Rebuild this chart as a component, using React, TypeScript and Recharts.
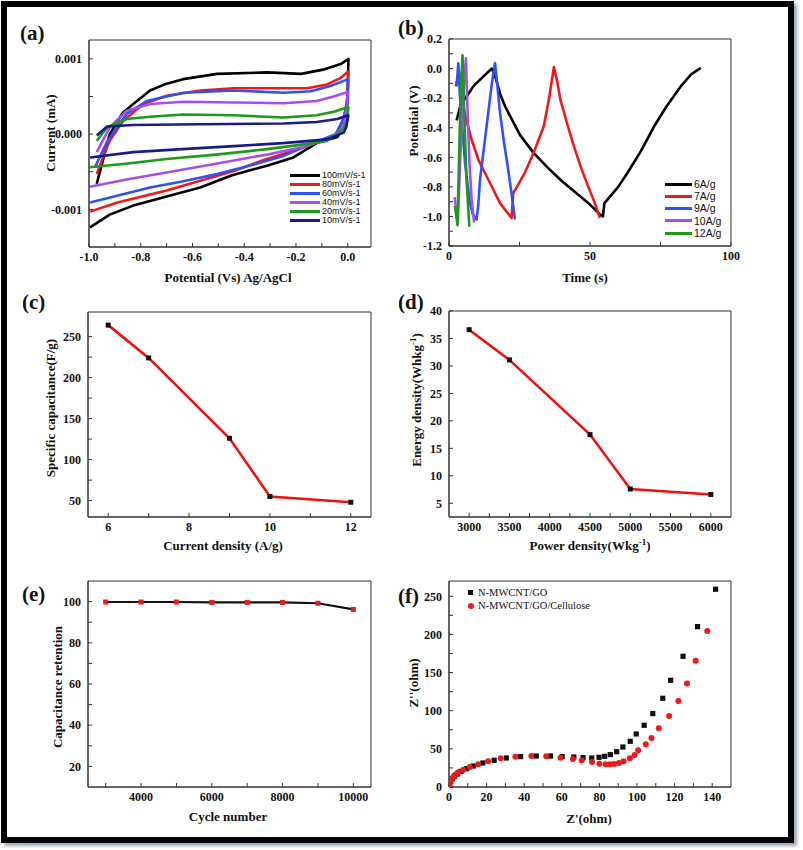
import React from "react";
import { ComposedChart, Line, Scatter, XAxis, YAxis, ReferenceArea } from "recharts";

// ---------------------------------------------------------------------------
// DATA
// ---------------------------------------------------------------------------

// (a) cyclic voltammetry, [potential V, current mA]
const cv100 = [
  [-0.97, -0.00066], [-0.95, -0.0004], [-0.92, 0], [-0.87, 0.00028], [-0.829, 0.0004], [-0.764, 0.00058],
  [-0.7, 0.00067], [-0.636, 0.00073], [-0.505, 0.0008], [-0.312, 0.00082], [-0.18, 0.0008], [-0.09, 0.00086],
  [-0.027, 0.00093], [0.003, 0.001], [0.0, 0.0006], [-0.005, 0.0003], [-0.015, 0.0001], [-0.04, -0.00004],
  [-0.12, -0.00012], [-0.21, -0.00031], [-0.312, -0.00042], [-0.45, -0.00055], [-0.57, -0.00071],
  [-0.7, -0.00083], [-0.829, -0.00095], [-0.92, -0.00107], [-0.996, -0.00124],
];
const cv80 = [
  [-0.97, -0.00053], [-0.945, -0.0003], [-0.92, -0.00009], [-0.867, 0.00018], [-0.79, 0.0004], [-0.7, 0.00051],
  [-0.57, 0.00058], [-0.44, 0.00061], [-0.248, 0.00061], [-0.157, 0.00061], [-0.08, 0.00066], [-0.03, 0.00074],
  [0.002, 0.00083], [0.0, 0.0005], [-0.015, 0.00022], [-0.04, 0], [-0.105, -0.0001], [-0.21, -0.00022],
  [-0.33, -0.00035], [-0.44, -0.00049], [-0.57, -0.00062], [-0.7, -0.00075], [-0.89, -0.00091], [-0.996, -0.00103],
];
const cv60 = [
  [-0.977, -0.00044], [-0.93, -0.0001], [-0.854, 0.00027], [-0.777, 0.00044], [-0.7, 0.0005], [-0.634, 0.00055],
  [-0.44, 0.00058], [-0.248, 0.00055], [-0.143, 0.00057], [-0.067, 0.00064], [0.002, 0.00073], [0.0, 0.0004],
  [-0.02, 0.00018], [-0.047, 0], [-0.12, -0.0001], [-0.248, -0.00029], [-0.38, -0.00042], [-0.505, -0.00053],
  [-0.64, -0.00063], [-0.764, -0.00071], [-0.88, -0.00081], [-0.996, -0.00091],
];
const cv40 = [
  [-0.97, -0.00024], [-0.92, 0.00009], [-0.854, 0.00031], [-0.764, 0.0004], [-0.634, 0.00043], [-0.44, 0.00042],
  [-0.248, 0.00041], [-0.12, 0.00044], [-0.054, 0.0005], [0.0, 0.00056], [-0.005, 0.0003], [-0.015, 0.00009],
  [-0.066, -0.00005], [-0.182, -0.00018], [-0.31, -0.00027], [-0.44, -0.00035], [-0.57, -0.00043],
  [-0.7, -0.00051], [-0.85, -0.0006], [-0.996, -0.0007],
];
const cv20 = [
  [-0.97, -0.00009], [-0.93, 0.00009], [-0.854, 0.0002], [-0.764, 0.00023], [-0.634, 0.00026], [-0.44, 0.00025],
  [-0.248, 0.00022], [-0.12, 0.00025], [-0.05, 0.0003], [0.002, 0.00036], [0.0, 0.0002], [-0.015, 0.00007],
  [-0.08, -0.00009], [-0.2, -0.00015], [-0.312, -0.0002], [-0.5, -0.00027], [-0.7, -0.00033],
  [-0.85, -0.00039], [-0.996, -0.00044],
];
const cv10 = [
  [-0.97, -0.00002], [-0.93, 0.0001], [-0.829, 0.00012], [-0.57, 0.00013], [-0.248, 0.00014], [-0.12, 0.00016],
  [-0.04, 0.0002], [0.002, 0.00025], [-0.005, 0.0001], [-0.015, 0.00002], [-0.08, -0.00007], [-0.25, -0.00012],
  [-0.44, -0.00016], [-0.64, -0.0002], [-0.829, -0.00024], [-0.996, -0.00031],
];
const cvLabels = ["100mV/s-1", "80mV/s-1", "60mV/s-1", "40mV/s-1", "20mV/s-1", "10mV/s-1"];

// (b) galvanostatic charge/discharge, [time s, potential V]
const gcd6 = [
  [2.7, -0.35], [3.9, -0.26], [5.1, -0.22], [7.5, -0.154], [8.6, -0.12], [12.2, -0.053], [15.2, 0.0],
  [16.5, -0.06], [18.1, -0.17], [20, -0.26], [25.2, -0.45], [30, -0.57], [35, -0.67], [40, -0.76],
  [45, -0.84], [50, -0.92], [53.7, -0.99], [54.6, -1.0], [55.1, -0.91], [56.1, -0.888], [60, -0.8],
  [63.2, -0.708], [68, -0.56], [72.7, -0.392], [77, -0.26], [82.2, -0.12], [85.8, -0.04], [89.3, 0.005],
];
const gcd7 = [
  [2.4, -0.12], [3.6, -0.02], [4.5, -0.19], [5.5, -0.3], [8.0, -0.48], [10.5, -0.62], [13.4, -0.73],
  [16, -0.83], [18.1, -0.91], [20.5, -0.97], [22.2, -1.01], [22.5, -0.92], [22.8, -0.84], [24.1, -0.8],
  [27, -0.7], [30, -0.57], [33.6, -0.39], [35.5, -0.2], [37.2, 0.01], [38.5, -0.1], [39.5, -0.21],
  [42, -0.38], [44.2, -0.52], [47, -0.68], [49, -0.78], [51.5, -0.9], [53.5, -1.01],
];
const gcd9 = [
  [2.7, -0.12], [3.3, 0.036], [3.9, -0.19], [4.8, -0.42], [5.7, -0.64], [7.4, -0.91], [8.5, -0.99],
  [9.8, -1.02], [10.4, -0.92], [11, -0.75], [12.5, -0.52], [13.9, -0.3], [15.2, -0.1], [16.3, 0.036],
  [16.8, -0.05], [18.1, -0.3], [19.5, -0.5], [20.5, -0.62], [22, -0.82], [23.4, -1.02],
];
const gcd10 = [
  [2.0, -0.87], [2.5, -0.95], [3.1, -1.04], [4.0, -0.6], [5.0, -0.2], [6.0, 0.07], [6.6, -0.3],
  [7.3, -0.65], [8.0, -0.88], [8.9, -1.04],
];
const gcd12 = [
  [2.1, -0.93], [2.6, -1.0], [3.0, -1.06], [3.7, -0.5], [4.2, -0.15], [4.8, 0.09], [5.4, -0.3],
  [6.2, -0.75], [7.2, -1.07],
];
const gcdLabels = ["6A/g", "7A/g", "9A/g", "10A/g", "12A/g"];

// (c) specific capacitance vs current density
const currentDensity = [6, 7, 9, 10, 12];
const specificCap = [264, 224, 126, 55, 48];

// (d) Ragone
const powerDensity = [3000, 3500, 4500, 5000, 6000];
const energyDensity = [36.6, 31.1, 17.5, 7.6, 6.6];

// (e) cycling
const cycleNumber = [3000, 4000, 5000, 6000, 7000, 8000, 9000, 10000];
const retention = [99.8, 99.8, 99.8, 99.6, 99.6, 99.6, 99.2, 96.2];

// (f) Nyquist, [Z' ohm, Z'' ohm]
const eisGO = [
  [0.35, 3.9], [0.9, 7.4], [1.8, 10.9], [2.8, 14.0], [4.4, 17.0], [6.4, 20.5], [9.4, 24.0], [12.9, 27.5],
  [18.0, 31.5], [24.0, 35.0], [30.5, 38.0], [38.1, 39.8], [46.4, 40.6], [54.0, 40.6], [60.2, 39.8],
  [66.4, 39.3], [71.3, 38.5], [75.9, 38.0], [79.8, 38.9], [82.8, 40.2], [85.8, 42.4], [89.2, 46.3],
  [92.5, 52.4], [96.4, 59.9], [99.6, 69.5], [103.8, 80.9], [108.4, 96.2], [113.7, 116.3], [117.9, 139.9],
  [124.5, 171.3], [132.2, 210.2], [141.8, 259.2],
];
const eisCellulose = [
  [0.2, 1.7], [0.35, 4.8], [0.9, 8.3], [1.8, 11.8], [3.2, 15.7], [4.9, 19.2], [7.6, 22.7], [11.1, 26.2],
  [15.5, 29.7], [20.8, 33.7], [27.5, 37.6], [35.3, 39.8], [43.8, 40.6], [51.7, 40.2], [59.3, 38.5],
  [65.9, 36.7], [70.6, 35.0], [76.1, 32.8], [80.0, 30.6], [83.3, 29.7], [85.6, 29.7], [87.9, 30.2],
  [90.4, 31.5], [92.9, 33.7], [96.2, 37.6], [98.7, 42.0], [100.6, 48.1], [104.7, 55.9], [107.7, 64.2],
  [111.6, 76.9], [117.1, 93.1], [122.0, 112.8], [126.6, 135.5], [131.2, 165.6], [137.4, 204.5],
];

// ---------------------------------------------------------------------------
// HELPERS
// ---------------------------------------------------------------------------

const SERIF = '"Liberation Serif", "Times New Roman", serif';
const SANS = '"Liberation Sans", Arial, sans-serif';
const AXIS = "#333";

const pts = (a: number[][]) => a.map(([x, y]) => ({ x, y }));
const zip = (xs: number[], ys: number[]) => xs.map((x, i) => ({ x, y: ys[i] }));

const tickStyle = { fill: "#111", fontSize: 12, fontWeight: 700, fontFamily: SERIF };

interface PanelProps {
  left: number;
  top: number;
  plotW: number;
  plotH: number;
  xDomain: [number, number];
  yDomain: [number, number];
  xMajor: number[];
  xMinor?: number[];
  yMajor: number[];
  yMinor?: number[];
  xFmt?: (v: number) => string;
  yFmt?: (v: number) => string;
  children: React.ReactNode;
}

const Y_W = 60;
const X_H = 30;
const M_TOP = 12;
const M_RIGHT = 22;

function Panel(p: PanelProps) {
  const xTicks = [...p.xMajor, ...(p.xMinor || [])].sort((a, b) => a - b);
  const yTicks = [...p.yMajor, ...(p.yMinor || [])].sort((a, b) => a - b);
  const xf = (v: number) => (p.xMajor.includes(v) ? (p.xFmt ? p.xFmt(v) : String(v)) : "");
  const yf = (v: number) => (p.yMajor.includes(v) ? (p.yFmt ? p.yFmt(v) : String(v)) : "");
  return (
    <div style={{ position: "absolute", left: p.left - Y_W, top: p.top - M_TOP }}>
      <ComposedChart
        width={Y_W + p.plotW + M_RIGHT}
        height={M_TOP + p.plotH + X_H}
        margin={{ top: M_TOP, right: M_RIGHT, left: 0, bottom: 0 }}
      >
        <XAxis
          type="number"
          dataKey="x"
          domain={p.xDomain}
          ticks={xTicks}
          interval={0}
          allowDataOverflow
          tickFormatter={xf}
          height={X_H}
          tickSize={-4}
          tickMargin={9}
          tick={tickStyle}
          axisLine={{ stroke: AXIS }}
          tickLine={{ stroke: AXIS }}
        />
        <YAxis
          type="number"
          dataKey="y"
          domain={p.yDomain}
          ticks={yTicks}
          interval={0}
          allowDataOverflow
          tickFormatter={yf}
          width={Y_W}
          tickSize={-4}
          tickMargin={11}
          tick={tickStyle}
          axisLine={{ stroke: AXIS }}
          tickLine={{ stroke: AXIS }}
        />
        <ReferenceArea
          x1={p.xDomain[0]}
          x2={p.xDomain[1]}
          y1={p.yDomain[0]}
          y2={p.yDomain[1]}
          fill="none"
          stroke={AXIS}
          strokeWidth={1}
          ifOverflow="visible"
        />
        {p.children}
      </ComposedChart>
    </div>
  );
}

function Text({ x, y, size, children, rotate, bold = true, family = SERIF }: {
  x: number; y: number; size: number; children: React.ReactNode; rotate?: boolean; bold?: boolean; family?: string;
}) {
  return (
    <div
      style={{
        position: "absolute",
        left: x,
        top: y,
        transform: `translate(-50%, -50%)${rotate ? " rotate(-90deg)" : ""}`,
        whiteSpace: "nowrap",
        fontFamily: family,
        fontWeight: bold ? 700 : 400,
        fontSize: size,
        lineHeight: 1,
        color: "#111",
      }}
    >
      {children}
    </div>
  );
}

function PanelTag({ x, y, children }: { x: number; y: number; children: React.ReactNode }) {
  return (
    <div style={{ position: "absolute", left: x, top: y, fontFamily: SERIF, fontWeight: 700, fontSize: 21, lineHeight: "21px", color: "#111" }}>
      {children}
    </div>
  );
}

function LineLegend({ x, y, gap, lineW, size, colors, labels }: {
  x: number; y: number; gap: number; lineW: number; size: number; colors: string[]; labels: string[];
}) {
  return (
    <div style={{ position: "absolute", left: x, top: y }}>
      {labels.map((l, i) => (
        <div key={l} style={{ position: "absolute", left: 0, top: i * gap, display: "flex", alignItems: "center", whiteSpace: "nowrap" }}>
          <div style={{ width: lineW, height: 3, background: colors[i], marginRight: 2 }} />
          <span style={{ fontFamily: SANS, fontSize: size, lineHeight: 1, color: "#111" }}>{l}</span>
        </div>
      ))}
    </div>
  );
}

const Square = (fill: string, s: number) => (props: any) => {
  const { cx, cy } = props;
  if (cx == null || cy == null) return <g key={props.key} />;
  return <rect key={props.key} x={cx - s / 2} y={cy - s / 2} width={s} height={s} fill={fill} />;
};

const cvColors = ["#000000", "#f01818", "#2f52f5", "#a64df0", "#1c9a1c", "#1a1a8a"];
const cvSeries = [cv100, cv80, cv60, cv40, cv20, cv10];
const gcdColors = ["#000000", "#f01818", "#2f52f5", "#a64df0", "#1c9a1c"];
const gcdSeries = [gcd6, gcd7, gcd9, gcd10, gcd12];

// ---------------------------------------------------------------------------
// APP
// ---------------------------------------------------------------------------

export default function App() {
  return (
    <div style={{ position: "absolute", left: 0, top: 0, width: 803, height: 850, background: "#fff", overflow: "hidden" }}>
      <div
        style={{
          position: "absolute", left: 1, top: 1, width: 793, height: 842, boxSizing: "border-box",
          border: "6px solid #000", boxShadow: "3px 3px 3px rgba(130,150,160,0.8)",
        }}
      />

      {/* (a) */}
      <Panel left={89} top={40} plotW={282} plotH={207}
        xDomain={[-1, 0.09]} yDomain={[-0.0015, 0.00125]}
        xMajor={[-1, -0.8, -0.6, -0.4, -0.2, 0]} xMinor={[-0.9, -0.7, -0.5, -0.3, -0.1]}
        yMajor={[-0.001, 0, 0.001]} yMinor={[-0.0005, 0.0005]}
        xFmt={(v) => v.toFixed(1)} yFmt={(v) => v.toFixed(3)}>
        {cvSeries.map((s, i) => (
          <Line key={i} data={pts(s)} dataKey="y" type="linear" stroke={cvColors[i]} strokeWidth={2.6}
            strokeLinejoin="round" dot={false} isAnimationActive={false} />
        ))}
      </Panel>
      <PanelTag x={20} y={23}>(a)</PanelTag>
      <Text x={50} y={133} size={13} rotate>Current (mA)</Text>
      <Text x={228} y={277} size={13}>Potential (Vs) Ag/AgCl</Text>
      <LineLegend x={290} y={171} gap={8.9} lineW={30} size={9} colors={cvColors} labels={cvLabels} />

      {/* (b) */}
      <Panel left={449} top={39} plotW={282} plotH={207}
        xDomain={[0, 100]} yDomain={[-1.2, 0.2]}
        xMajor={[0, 50, 100]} xMinor={[25, 75]}
        yMajor={[-1.2, -1, -0.8, -0.6, -0.4, -0.2, 0, 0.2]} yMinor={[-1.1, -0.9, -0.7, -0.5, -0.3, -0.1, 0.1]}
        xFmt={(v) => String(v)} yFmt={(v) => v.toFixed(1)}>
        {gcdSeries.map((s, i) => (
          <Line key={i} data={pts(s)} dataKey="y" type="linear" stroke={gcdColors[i]} strokeWidth={2.6}
            strokeLinejoin="round" dot={false} isAnimationActive={false} />
        ))}
      </Panel>
      <PanelTag x={398} y={18}>(b)</PanelTag>
      <Text x={413} y={121} size={13} rotate>Potential (V)</Text>
      <Text x={585} y={277} size={13}>Time (s)</Text>
      <LineLegend x={665} y={179} gap={12.2} lineW={27} size={10.5} colors={gcdColors} labels={gcdLabels} />

      {/* (c) */}
      <Panel left={88} top={312} plotW={283} plotH={205}
        xDomain={[5.5, 12.5]} yDomain={[30, 280]}
        xMajor={[6, 8, 10, 12]} xMinor={[7, 9, 11]}
        yMajor={[50, 100, 150, 200, 250]} yMinor={[75, 125, 175, 225]}>
        <Line data={zip(currentDensity, specificCap)} dataKey="y" type="linear" stroke="#f01010" strokeWidth={2.6}
          dot={Square("#111", 5)} isAnimationActive={false} />
      </Panel>
      <PanelTag x={22} y={292}>(c)</PanelTag>
      <Text x={50} y={408} size={13} rotate>Specific capacitance(F/g)</Text>
      <Text x={223} y={545} size={13}>Current density (A/g)</Text>

      {/* (d) */}
      <Panel left={449} top={311} plotW={282} plotH={206}
        xDomain={[2750, 6250]} yDomain={[2.5, 40]}
        xMajor={[3000, 3500, 4000, 4500, 5000, 5500, 6000]} xMinor={[3250, 3750, 4250, 4750, 5250, 5750]}
        yMajor={[5, 10, 15, 20, 25, 30, 35, 40]}>
        <Line data={zip(powerDensity, energyDensity)} dataKey="y" type="linear" stroke="#f01010" strokeWidth={2.6}
          dot={Square("#111", 5)} isAnimationActive={false} />
      </Panel>
      <PanelTag x={398} y={292}>(d)</PanelTag>
      <Text x={416} y={400} size={13} rotate>Energy density(Whkg<sup style={{ fontSize: 9 }}>-1</sup>)</Text>
      <Text x={590} y={545} size={13}>Power density(Wkg<sup style={{ fontSize: 9 }}>-1</sup>)</Text>

      {/* (e) */}
      <Panel left={88} top={581} plotW={283} plotH={206}
        xDomain={[2500, 10500]} yDomain={[10, 110]}
        xMajor={[4000, 6000, 8000, 10000]} xMinor={[3000, 5000, 7000, 9000]}
        yMajor={[20, 40, 60, 80, 100]} yMinor={[30, 50, 70, 90]}>
        <Line data={zip(cycleNumber, retention)} dataKey="y" type="linear" stroke="#111" strokeWidth={2.2}
          dot={Square("#f01818", 5)} isAnimationActive={false} />
      </Panel>
      <PanelTag x={22} y={584}>(e)</PanelTag>
      <Text x={57} y={687} size={13} rotate>Capacitance retention</Text>
      <Text x={228} y={816} size={13}>Cycle number</Text>

      {/* (f) */}
      <Panel left={449} top={581} plotW={282} plotH={206}
        xDomain={[0, 150]} yDomain={[0, 270]}
        xMajor={[0, 20, 40, 60, 80, 100, 120, 140]} xMinor={[10, 30, 50, 70, 90, 110, 130]}
        yMajor={[0, 50, 100, 150, 200, 250]} yMinor={[25, 75, 125, 175, 225]}>
        <Scatter data={pts(eisGO)} dataKey="y" fill="#111" isAnimationActive={false}
          shape={(props: any) => <rect x={props.cx - 2.6} y={props.cy - 2.6} width={5.2} height={5.2} fill="#111" />} />
        <Scatter data={pts(eisCellulose)} dataKey="y" fill="#f01818" isAnimationActive={false}
          shape={(props: any) => <circle cx={props.cx} cy={props.cy} r={3} fill="#f01818" />} />
      </Panel>
      <PanelTag x={398} y={586}>(f)</PanelTag>
      <Text x={413} y={683} size={13} rotate>Z''(ohm)</Text>
      <Text x={589} y={818} size={13}>Z'(ohm)</Text>
      <div style={{ position: "absolute", left: 468, top: 590, width: 5, height: 5, background: "#111" }} />
      <div style={{ position: "absolute", left: 467.7, top: 602.7, width: 6, height: 6, borderRadius: 3, background: "#f01818" }} />
      <div style={{ position: "absolute", left: 478, top: 587, fontFamily: SERIF, fontSize: 10.5, lineHeight: "12px", color: "#111" }}>N-MWCNT/GO</div>
      <div style={{ position: "absolute", left: 478, top: 600, fontFamily: SERIF, fontSize: 10.5, lineHeight: "12px", color: "#111" }}>N-MWCNT/GO/Cellulose</div>
    </div>
  );
}
